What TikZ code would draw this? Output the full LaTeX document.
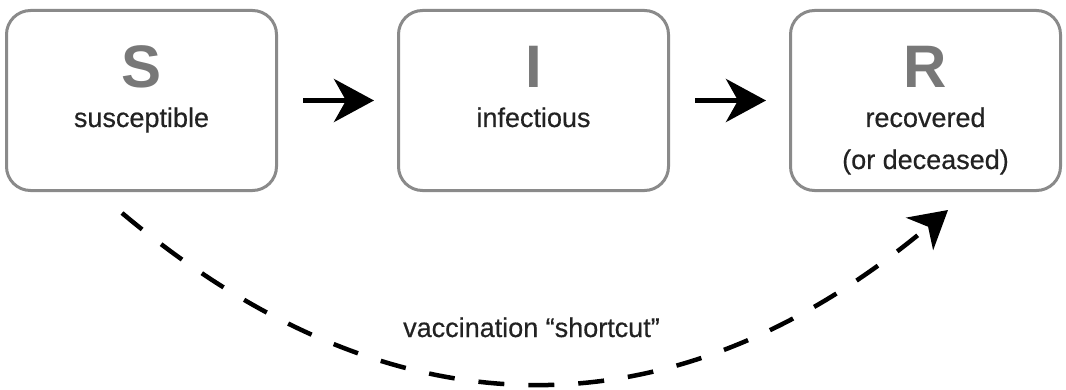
\documentclass[tikz,border=0pt]{standalone}
\usepackage{fontspec}
\setmainfont{Liberation Sans}
\newfontfamily\captionfont[FakeBold=0.5]{Liberation Sans}
\usepackage{tikz}
\usetikzlibrary{arrows.meta, positioning}
\definecolor{boxgray}{HTML}{8A8A8A}
\definecolor{lettergray}{HTML}{787878}
\definecolor{textdark}{HTML}{222222}

\begin{document}
\begin{tikzpicture}[x=1pt, y=1pt, node distance=119pt,
    compartment/.style={draw=boxgray, line width=3pt, rounded corners=24pt, minimum width=270pt, minimum height=180pt, inner sep=0pt},
    letter/.style={font=\fontsize{60}{60}\selectfont\bfseries, text=lettergray, anchor=base, inner sep=0pt},
    caption/.style={font=\captionfont\fontsize{27}{27}\selectfont, text=textdark, anchor=base, inner sep=0pt},
    flow/.style={-{Stealth[length=40pt, width=43pt, inset=12pt]}, line width=5pt},
    vacc/.style={-{Stealth[length=37pt, width=42pt, inset=11pt]}, line width=4.5pt, dash pattern=on 26pt off 24pt}]
    \useasboundingbox (0,0) rectangle (1066,389);
    % Compartments
    \node[compartment] (S) at (141.5,288.5) {};
    \node[compartment, right=of S] (I) {};
    \node[compartment, right=of I] (R) {};
    % Letters and names
    \foreach \c/\t in {S/susceptible, I/infectious, R/recovered} {
        \node[letter] (\c-letter) at ([yshift=-79pt]\c.north) {\c};
        \node[caption] (\c-name) at ([yshift=-118pt]\c.north) {\t};
    }
    \node[caption] (R-note) at ([yshift=-160pt]R.north) {(or deceased)};
    % Transitions
    \draw[flow, shorten <=25pt, shorten >=23pt] (S) -- (I);
    \draw[flow, shorten <=25pt, shorten >=23pt] (I) -- (R);
    % Vaccination shortcut
    \coordinate (vstart) at ([xshift=-19.5pt, yshift=-21pt]S.south);
    \coordinate (vend) at ([xshift=22.5pt, yshift=-18pt]R.south);
    \draw[vacc] (vstart) .. controls +(-40:356pt) and +(220:356pt) .. (vend);
    \node[caption] (shortcut) at (531.5,52) {vaccination “shortcut”};
\end{tikzpicture}
\end{document}
